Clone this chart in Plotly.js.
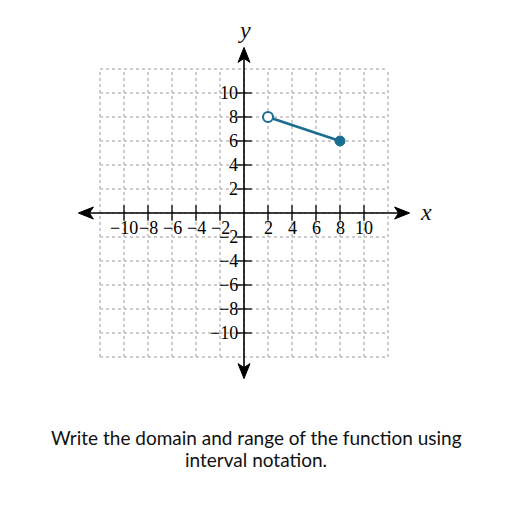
<!DOCTYPE html>
<html>
<head>
<meta charset="utf-8">
<script src="https://cdn.plot.ly/plotly-3.0.1.min.js"></script>
<style>html,body{margin:0;padding:0;background:#fff;}#chart{width:512px;height:512px;}</style>
</head>
<body>
<div id="chart"></div>
<script>
// ---- data ----
var gridValues = [-12, -10, -8, -6, -4, -2, 0, 2, 4, 6, 8, 10, 12];
var xTickValues = [-10, -8, -6, -4, -2, 2, 4, 6, 8, 10];
var xTickLabels = ["\u221210", "\u22128", "\u22126", "\u22124", "\u22122", "2", "4", "6", "8", "10"];
var yTickValues = [-10, -8, -6, -4, -2, 2, 4, 6, 8, 10];
var yTickLabels = ["\u221210", "\u22128", "\u22126", "\u22124", "\u22122", "2", "4", "6", "8", "10"];
var segmentX = [2, 8];
var segmentY = [8, 6];
var openPointX = [2], openPointY = [8];
var closedPointX = [8], closedPointY = [6];
var axisExtent = 13.8;
var captionLines = ["Write the domain and range of the function using", "interval notation."];

var blue = '#1b6d90';
var serif = 'Liberation Serif, Times New Roman, serif';

var shapes = [];
gridValues.forEach(function (v) {
  shapes.push({type: 'line', xref: 'x', yref: 'y', x0: v, x1: v, y0: -12, y1: 12,
    line: {color: '#9c9c9c', width: 1, dash: 'dot'}, layer: 'below'});
  shapes.push({type: 'line', xref: 'x', yref: 'y', x0: -12, x1: 12, y0: v, y1: v,
    line: {color: '#9c9c9c', width: 1, dash: 'dot'}, layer: 'below'});
});
// axes
shapes.push({type: 'line', xref: 'x', yref: 'y', x0: -axisExtent + 0.6, x1: axisExtent - 0.6, y0: 0, y1: 0,
  line: {color: '#000', width: 1.6}});
shapes.push({type: 'line', xref: 'x', yref: 'y', x0: 0, x1: 0, y0: -axisExtent + 0.6, y1: axisExtent - 0.6,
  line: {color: '#000', width: 1.6}});
// arrowheads
function arrow(ax, ay, path) {
  return {type: 'path', xref: 'x', yref: 'y', xsizemode: 'pixel', ysizemode: 'pixel',
    xanchor: ax, yanchor: ay, path: path, fillcolor: '#000', line: {color: '#000', width: 1}};
}
shapes.push(arrow(axisExtent, 0, 'M0,0 L-15,6 L-11,0 L-15,-6 Z'));
shapes.push(arrow(-axisExtent, 0, 'M0,0 L15,6 L11,0 L15,-6 Z'));
shapes.push(arrow(0, axisExtent, 'M0,0 L6,-15 L0,-11 L-6,-15 Z'));
shapes.push(arrow(0, -axisExtent, 'M0,0 L6,15 L0,11 L-6,15 Z'));

var annotations = [];
xTickValues.forEach(function (v, i) {
  annotations.push({x: v, y: 0, xref: 'x', yref: 'y', text: xTickLabels[i], showarrow: false,
    xanchor: 'center', yanchor: 'middle', yshift: -15, font: {family: serif, size: 18, color: '#000'}});
});
yTickValues.forEach(function (v, i) {
  annotations.push({x: 0, y: v, xref: 'x', yref: 'y', text: yTickLabels[i], showarrow: false,
    xanchor: 'right', yanchor: 'middle', xshift: -4, font: {family: serif, size: 18, color: '#000'}});
});
annotations.push({x: axisExtent, y: 0, xref: 'x', yref: 'y', text: '<i>x</i>', showarrow: false,
  xanchor: 'left', yanchor: 'middle', xshift: 8, yshift: 1, font: {family: serif, size: 24, color: '#111'}});
annotations.push({x: 0, y: axisExtent, xref: 'x', yref: 'y', text: '<i>y</i>', showarrow: false,
  xanchor: 'center', yanchor: 'bottom', yshift: 2, font: {family: serif, size: 24, color: '#111'}});
annotations.push({x: 0.536, y: -0.167, xref: 'paper', yref: 'paper', text: captionLines[0], showarrow: false,
  xanchor: 'center', yanchor: 'middle', font: {family: 'Lato, sans-serif', size: 19, color: '#111'}});
annotations.push({x: 0.536, y: -0.235, xref: 'paper', yref: 'paper', text: captionLines[1], showarrow: false,
  xanchor: 'center', yanchor: 'middle', font: {family: 'Lato, sans-serif', size: 19, color: '#111'}});

var traces = [
  {x: xTickValues, y: xTickValues.map(function () { return 0; }), mode: 'markers', hoverinfo: 'skip',
    marker: {symbol: 'line-ns-open', size: 11, color: '#000', line: {color: '#000', width: 1.3}}},
  {x: yTickValues.map(function () { return 0; }), y: yTickValues, mode: 'markers', hoverinfo: 'skip',
    marker: {symbol: 'line-ew-open', size: 11, color: '#000', line: {color: '#000', width: 1.3}}},
  {x: segmentX, y: segmentY, mode: 'lines', line: {color: blue, width: 2.6}},
  {x: openPointX, y: openPointY, mode: 'markers',
    marker: {symbol: 'circle', size: 10, color: '#fff', line: {color: blue, width: 2}}},
  {x: closedPointX, y: closedPointY, mode: 'markers',
    marker: {symbol: 'circle', size: 10, color: blue, line: {color: blue, width: 1}}}
];

var layout = {
  width: 512, height: 512,
  margin: {l: 76, r: 100, t: 45, b: 131},
  paper_bgcolor: '#fff', plot_bgcolor: '#fff',
  showlegend: false,
  xaxis: {range: [-14, 14], visible: false, fixedrange: true},
  yaxis: {range: [-14, 14], visible: false, fixedrange: true},
  shapes: shapes,
  annotations: annotations
};
Plotly.newPlot('chart', traces, layout, {displayModeBar: false, staticPlot: true});
</script>
</body>
</html>
